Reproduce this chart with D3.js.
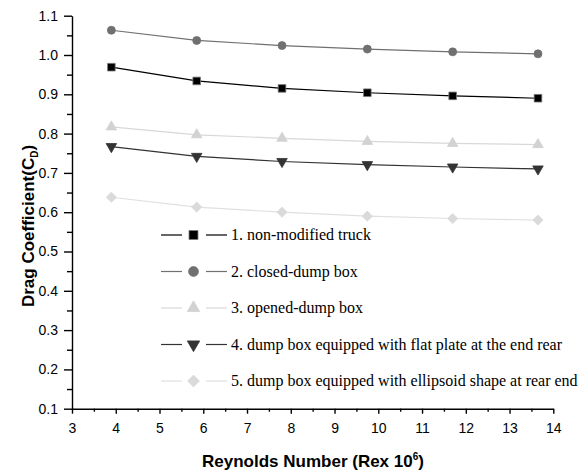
<!DOCTYPE html>
<html lang="en">
<head>
    <meta charset="UTF-8">
    <title>Drag Coefficient vs Reynolds Number</title>
    <style>
        body {
            margin: 0;
            padding: 0;
            background: #fff;
            overflow: hidden;
        }
        .axis text {
            font-family: 'Liberation Sans', Arial, sans-serif;
            font-size: 14px;
            fill: #000;
        }
        .axis path, .axis line {
            stroke: #000;
            stroke-width: 1.4px;
        }
        .title {
            font-family: 'Liberation Sans', Arial, sans-serif;
            font-size: 17px;
            font-weight: bold;
        }
        .legend text {
            font-family: 'Liberation Serif', 'Times New Roman', serif;
            font-size: 16px;
        }
    </style>
</head>
<body>
    <svg id="chart" width="583" height="473"></svg>

    <script src="https://cdn.jsdelivr.net/npm/d3@7"></script>
    <script>
        // Reynolds number (x 10^6) at each measurement
        const reynolds = [3.9, 5.85, 7.8, 9.75, 11.7, 13.65];

        const seriesNames = [
            "1. non-modified truck",
            "2. closed-dump box",
            "3. opened-dump box",
            "4. dump box equipped with flat plate at the end rear",
            "5. dump box equipped with ellipsoid shape at rear end"
        ];

        const nonModified = [0.969, 0.934, 0.915, 0.904, 0.896, 0.890];
        const closedDump = [1.063, 1.037, 1.024, 1.015, 1.008, 1.003];
        const openedDump = [0.817, 0.797, 0.788, 0.780, 0.775, 0.772];
        const flatPlate = [0.767, 0.742, 0.729, 0.721, 0.715, 0.710];
        const ellipsoid = [0.638, 0.613, 0.600, 0.590, 0.584, 0.580];

        const xTicks = [3, 4, 5, 6, 7, 8, 9, 10, 11, 12, 13, 14];
        const yTicks = [0.1, 0.2, 0.3, 0.4, 0.5, 0.6, 0.7, 0.8, 0.9, 1.0, 1.1];

        const allValues = [nonModified, closedDump, openedDump, flatPlate, ellipsoid];

        // look of each series: marker, fill, outline, line colour
        const styles = [
            {symbol: d3.symbolSquare, rotate: 0, fill: "#000", stroke: "#777", line: "#000", size: 58, legSize: 80},
            {symbol: d3.symbolCircle, rotate: 0, fill: "#707070", stroke: "#707070", line: "#707070", size: 50, legSize: 76},
            {symbol: d3.symbolTriangle, rotate: 0, fill: "#d2d2d2", stroke: "#d2d2d2", line: "#d8d8d8", size: 48, legSize: 66},
            {symbol: d3.symbolTriangle, rotate: 180, fill: "#333", stroke: "#333", line: "#333", size: 48, legSize: 66},
            {symbol: d3.symbolSquare, rotate: 45, fill: "#dadada", stroke: "#dadada", line: "#e0e0e0", size: 52, legSize: 70}
        ];

        const margin = {top: 15.7, right: 30, bottom: 64.3, left: 72};
        const width = 553.3 - margin.left;
        const height = 408.7 - margin.top;

        const svg = d3.select("#chart");
        const g = svg.append("g")
            .attr("transform", `translate(${margin.left},${margin.top})`);

        const x = d3.scaleLinear().domain([3, 14]).range([0, width]);
        const y = d3.scaleLinear().domain([0.1, 1.1]).range([height, 0]);

        // minor ticks first so major ones sit on top
        const xMinor = d3.range(3.5, 14, 1);
        const yMinor = d3.range(0.15, 1.1, 0.1);

        g.append("g")
            .attr("class", "axis")
            .attr("transform", `translate(0,${height})`)
            .call(d3.axisBottom(x).tickValues(xMinor).tickSize(3).tickFormat(""))
            .select(".domain").remove();

        g.append("g")
            .attr("class", "axis")
            .call(d3.axisLeft(y).tickValues(yMinor).tickSize(5).tickFormat(""))
            .select(".domain").remove();

        g.append("g")
            .attr("class", "axis")
            .attr("transform", `translate(0,${height})`)
            .call(d3.axisBottom(x).tickValues(xTicks).tickSize(5).tickSizeOuter(0).tickPadding(9).tickFormat(d3.format("d")));

        g.append("g")
            .attr("class", "axis")
            .call(d3.axisLeft(y).tickValues(yTicks).tickSize(8).tickSizeOuter(0).tickPadding(6).tickFormat(d3.format(".1f")));

        // Axis titles
        const xTitle = svg.append("text")
            .attr("class", "title")
            .attr("x", 313)
            .attr("y", 467)
            .attr("text-anchor", "middle");
        xTitle.append("tspan").text("Reynolds Number (Rex 10");
        xTitle.append("tspan").attr("font-size", "10px").attr("dy", "-7").text("6");
        xTitle.append("tspan").attr("dy", "7").text(")");

        const yTitle = svg.append("text")
            .attr("class", "title")
            .attr("transform", "translate(34,226) rotate(-90)")
            .attr("text-anchor", "middle");
        yTitle.append("tspan").text("Drag Coefficient(C");
        yTitle.append("tspan").attr("font-size", "10px").attr("dy", "4").text("D");
        yTitle.append("tspan").attr("dy", "-4").text(")");

        // Lines and markers
        const line = d3.line()
            .x((d, i) => x(reynolds[i]))
            .y(d => y(d));

        allValues.forEach((vals, k) => {
            const s = styles[k];
            g.append("path")
                .attr("d", line(vals))
                .attr("fill", "none")
                .attr("stroke", s.line)
                .attr("stroke-width", 1.2);

            g.selectAll(".m" + k)
                .data(vals)
                .enter().append("path")
                .attr("class", "m" + k)
                .attr("d", d3.symbol().type(s.symbol).size(s.size))
                .attr("transform", (d, i) => `translate(${x(reynolds[i])},${y(d)}) rotate(${s.rotate})`)
                .attr("fill", s.fill)
                .attr("stroke", s.stroke)
                .attr("stroke-width", 0.8);
        });

        // Legend
        const legend = svg.append("g").attr("class", "legend");
        const legendY = [235, 271.5, 308, 344.5, 381];

        seriesNames.forEach((name, k) => {
            const s = styles[k];
            const row = legend.append("g")
                .attr("transform", `translate(0,${legendY[k]})`);
            row.append("line")
                .attr("x1", 161).attr("x2", 182)
                .attr("stroke", s.line).attr("stroke-width", 1.2);
            row.append("line")
                .attr("x1", 206).attr("x2", 227)
                .attr("stroke", s.line).attr("stroke-width", 1.2);
            row.append("path")
                .attr("d", d3.symbol().type(s.symbol).size(s.legSize))
                .attr("transform", `translate(193.5,0) rotate(${s.rotate})`)
                .attr("fill", s.fill)
                .attr("stroke", s.stroke)
                .attr("stroke-width", 0.8);
            row.append("text")
                .attr("x", 231)
                .attr("y", 5)
                .text(name);
        });
    </script>
</body>
</html>
